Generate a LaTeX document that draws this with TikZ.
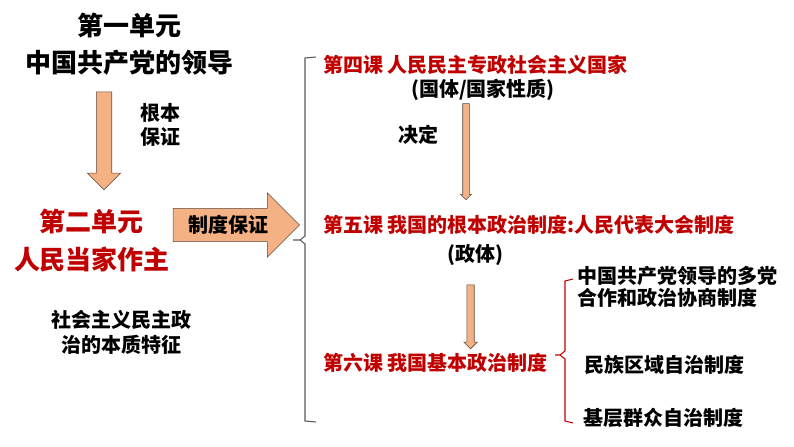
\documentclass[tikz,border=0pt]{standalone}
\usepackage{fontspec}
\setmainfont{Noto Sans CJK SC}
\usetikzlibrary{shapes.arrows}
\definecolor{DarkRed}{HTML}{C00000}
\definecolor{Peach}{HTML}{F4B183}
\definecolor{PeachLine}{HTML}{5E4A3E}
\definecolor{BraceGray}{HTML}{595959}

\begin{document}
\begin{tikzpicture}[x=0.75pt,y=-0.75pt,
    bigtxt/.style={font=\fontsize{19.5}{28}\selectfont\bfseries,align=center,inner sep=0pt},
    txt/.style={font=\fontsize{15}{18}\selectfont\bfseries,align=center,inner sep=0pt},
    lesson/.style={txt,DarkRed,anchor=west},
    fatarrow/.style={single arrow,draw=PeachLine,fill=Peach,inner sep=0pt},
    downarrow/.style={fatarrow,shape border rotate=270}]
  \useasboundingbox (0,0) rectangle (794,447);
  % left column
  \node[bigtxt] (unitone) at (130,44) {第一单元\\中国共产党的领导};
  \node[downarrow,minimum height=73.5pt,inner sep=5.6pt,
    single arrow head extend=6.75pt] (bigdown) at (104,137) {};
  \node[txt] (rootnote) at (160,125) {根本\\保证};
  \node[bigtxt,DarkRed,font=\fontsize{19.5}{28.5}\selectfont\bfseries] (unittwo) at (92,241) {第二单元\\人民当家作主};
  \node[txt,font=\fontsize{15}{18.75}\selectfont\bfseries] (essence) at (121,332) {社会主义民主政\\治的本质特征};
  \node[fatarrow,minimum height=90.75pt,minimum width=48pt,single arrow head extend=11.6pt,
    inner xsep=11pt,inner ysep=5pt,font=\fontsize{15}{18}\selectfont\bfseries] (guarantee) at (228,225) {制度保证};
  % big brace
  \draw[BraceGray,thick] (316,57) -- (305,58) -- (305,236) -- (300,240) -- (293,240)
    (300,240) -- (305,244) -- (305,421) -- (316,422);
  % lessons
  \node[lesson] (lessonfour) at (323,65) {第四课 人民民主专政社会主义国家};
  \node[txt] (statenature) at (483,90) {(国体/国家性质)};
  \node[txt] (decide) at (418,135) {决定};
  \node[downarrow,minimum height=72pt,inner sep=2.25pt,
    single arrow head extend=1.5pt] (downone) at (466,150) {};
  \node[lesson] (lessonfive) at (323,225) {第五课 我国的根本政治制度:人民代表大会制度};
  \node[txt] (govform) at (475,255) {(政体)};
  \node[downarrow,minimum height=48pt,inner sep=2.6pt,
    single arrow head extend=2.25pt] (downtwo) at (470.5,315) {};
  \node[lesson] (lessonsix) at (323,363) {第六课 我国基本政治制度};
  % red brace
  \draw[DarkRed,thick] (573,279) -- (565,281) -- (565,351) -- (560,355) -- (555,355)
    (560,355) -- (565,359) -- (565,421) -- (573,423);
  \node[txt,align=left,font=\fontsize{15}{16.2}\selectfont\bfseries,anchor=west] (multiparty) at (577,287) {中国共产党领导的多党\\合作和政治协商制度};
  \node[txt,anchor=west] (autonomy) at (584,365) {民族区域自治制度};
  \node[txt,anchor=west] (grassroots) at (583,418) {基层群众自治制度};
\end{tikzpicture}
\end{document}
